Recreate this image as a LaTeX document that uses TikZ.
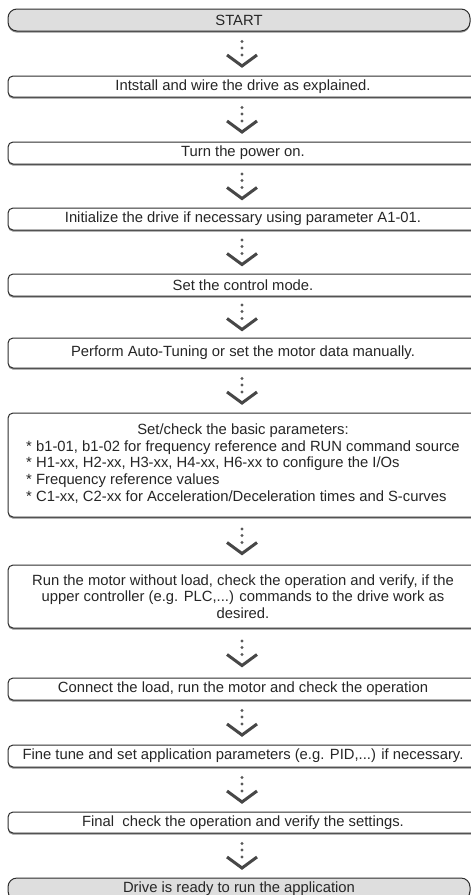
\documentclass[tikz,border=0pt]{standalone}
\usepackage{fontspec}
\setmainfont{Liberation Sans}
\usetikzlibrary{shadows,calc}

\definecolor{boxline}{RGB}{45,45,45}
\definecolor{termfill}{RGB}{222,222,222}

% 兩框之間的虛線箭頭:三個點 + 折角
\newcommand{\flowarrow}[2]{%
    \coordinate (mid) at ($(#1.south -| axis)!0.5!(#2.north -| axis)$);
    \foreach \d in {12,5.5,-1.5} {
        \node[flow_dot] at ($(mid)+(0,\d)$) {};
    }
    \draw[flow_chevron] ($(mid)+(-15,-1.5)$) -- ($(mid)+(0,-12.5)$) -- ($(mid)+(15,-1.5)$);
}

\begin{document}
\begin{tikzpicture}[
        x=1pt, y=1pt,
        % 步驟框樣式:左側圓角,底部陰影
        step_box/.style={
            draw=boxline,
            fill=white,
            line width=1pt,
            rounded corners=5pt,
            minimum width=470pt,
            inner sep=0pt,
            align=center,
            text=black!85,
            font=\fontsize{14.8}{16.8}\selectfont,
            drop shadow={shadow xshift=0pt, shadow yshift=-1.6pt, fill=black!45, opacity=1}
        },
        % 開始 / 結束框:灰底,大圓角
        term_box/.style={
            step_box,
            fill=termfill,
            rounded corners=9pt,
            minimum width=462pt
        },
        % 箭頭的點
        flow_dot/.style={
            circle,
            fill=black!65,
            inner sep=0pt,
            minimum size=3.4pt
        },
        % 箭頭的折角
        flow_chevron/.style={
            draw=black!72,
            line width=3pt,
            line join=miter
        }
    ]
        % ==========================
        % 畫布範圍
        % ==========================
        \useasboundingbox (0,0) rectangle (471,-895);
        \clip (0,0) rectangle (471,-895);
        \coordinate (axis) at (242,0);

        % ==========================
        % 1. 步驟框
        % ==========================
        \node[term_box, minimum height=22pt] (start) at (239,-20) {START};
        \node[step_box, minimum height=21pt] (install) at (243,-86.5) {Intstall and wire the drive as explained.};
        \node[step_box, minimum height=22pt] (power) at (243,-153) {Turn the power on.};
        \node[step_box, minimum height=22pt] (init) at (243,-219) {Initialize the drive if necessary using parameter A1-01.};
        \node[step_box, minimum height=22pt] (mode) at (243,-285) {Set the control mode.};
        \node[step_box, minimum height=30pt] (tuning) at (243,-353) {Perform Auto-Tuning or set the motor data manually.};
        \node[step_box, minimum height=104pt] (params) at (243,-465) {Set/check the basic parameters:\\
            \begin{tabular}[t]{@{}l@{}}
                {*} b1-01, b1-02 for frequency reference and RUN command source\\
                {*} H1-xx, H2-xx, H3-xx, H4-xx, H6-xx to configure the I/Os\\
                {*} Frequency reference values\\
                {*} C1-xx, C2-xx for Acceleration/Deceleration times and S-curves
            \end{tabular}};
        \node[step_box, minimum height=63pt] (noload) at (243,-596.5) {Run the motor without load, check the operation and verify, if the\\
            upper controller (e.g. PLC,...) commands to the drive work as\\
            desired.};
        \node[step_box, minimum height=22pt] (load) at (243,-689) {Connect the load, run the motor and check the operation};
        \node[step_box, minimum height=22pt] (finetune) at (243,-756) {Fine tune and set application parameters (e.g. PID,...) if necessary.};
        \node[step_box, minimum height=21pt] (final) at (243,-822.5) {Final\ \ check the operation and verify the settings.};
        \node[term_box, minimum height=22pt] (ready) at (239,-889) {Drive is ready to run the application};

        % ==========================
        % 2. 箭頭
        % ==========================
        \flowarrow{start}{install}
        \flowarrow{install}{power}
        \flowarrow{power}{init}
        \flowarrow{init}{mode}
        \flowarrow{mode}{tuning}
        \flowarrow{tuning}{params}
        \flowarrow{params}{noload}
        \flowarrow{noload}{load}
        \flowarrow{load}{finetune}
        \flowarrow{finetune}{final}
        \flowarrow{final}{ready}

\end{tikzpicture}
\end{document}
